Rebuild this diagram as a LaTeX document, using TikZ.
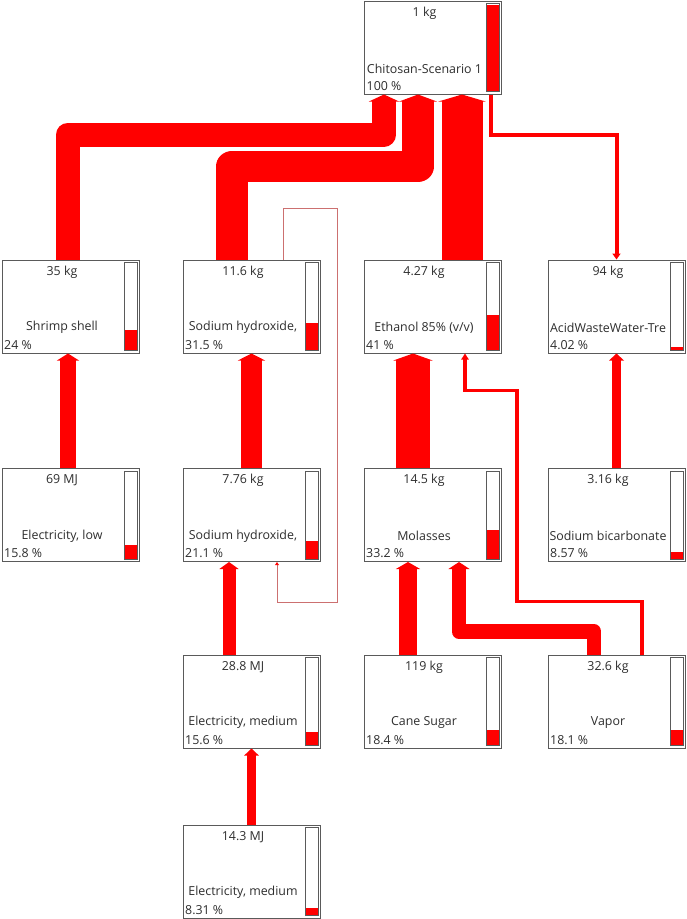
\documentclass[tikz,border=0pt]{standalone}
\usepackage{fontspec}
\setmainfont{Open Sans}
\usetikzlibrary{positioning, arrows.meta}
\definecolor{Flow}{HTML}{FF0000}
\definecolor{Frame}{HTML}{5A5A5A}
\definecolor{Ink}{HTML}{2E2E2E}
\definecolor{Thin}{HTML}{CC7070}
\tikzset{
    procbox/.style={rectangle, draw=Frame, fill=white, line width=1pt, minimum width=137pt, minimum height=93pt, inner sep=0pt},
    boxtext/.style={text=Ink, font=\fontsize{12.4}{14}\selectfont, inner sep=0pt},
    barframe/.style={draw=Frame, line width=0.8pt},
    flow/.style={draw=Flow, line width=#1, line join=round, -{Triangle[length=7pt 0, width=6pt 1]}},
    thinflow/.style={draw=Flow, line width=#1, -{Triangle[length=6pt 0, width=4pt 1]}},
    backflow/.style={draw=Thin, line width=0.8pt, -{Triangle[length=3pt 0, width=3pt 1, color=Flow]}},
}
\begin{document}
\begin{tikzpicture}[x=1pt, y=-1pt]
    \useasboundingbox (0,0) rectangle (687,919);

    % Processi (scatola, quantita, nome, percentuale, barra)
    \foreach \nm/\cx/\cy/\amt/\lab/\pct in {
        top/433/47.5/1 kg/Chitosan-Scenario 1/100,
        shrimp/70.5/306.5/35 kg/Shrimp shell/24,
        naohA/251.5/306.5/11.6 kg/{Sodium hydroxide,}/31.5,
        ethanol/432.5/306.5/4.27 kg/{Ethanol 85\% (v/v)}/41,
        acid/616.5/306.5/94 kg/AcidWasteWater-Tre/4.02,
        eleclow/70.5/515/69 MJ/{Electricity, low}/15.8,
        naohB/251.5/515/7.76 kg/{Sodium hydroxide,}/21.1,
        molasses/432.5/515/14.5 kg/Molasses/33.2,
        bicarb/616.5/515/3.16 kg/Sodium bicarbonate/8.57,
        elecmedA/251.5/701.5/28.8 MJ/{Electricity, medium}/15.6,
        cane/432.5/701.5/119 kg/Cane Sugar/18.4,
        vapor/616.5/701.5/32.6 kg/Vapor/18.1,
        elecmedB/251.5/871.5/14.3 MJ/{Electricity, medium}/8.31}{
        \node[procbox] (\nm) at (\cx,\cy) {};
        \node[boxtext] (\nm-amt) at ([xshift=-8.5pt, yshift=-12.5pt]\nm.north) {\amt};
        \node[boxtext] (\nm-lab) at ([xshift=-8.5pt, yshift=26pt]\nm.south) {\lab};
        \node[boxtext, anchor=west] (\nm-pct) at ([xshift=2.5pt, yshift=8.5pt]\nm.south west) {\pct\ \%};
        \draw[barframe] ([xshift=-15.5pt, yshift=-3pt]\nm.north east) rectangle ([xshift=-2.5pt, yshift=3pt]\nm.south east);
        \fill[Flow] ([xshift=-15pt, yshift=3.4pt]\nm.south east) rectangle ([xshift=-3pt, yshift={3+0.87*\pct}]\nm.south east);
    }

    % Flussi verso Chitosan
    \draw[flow=24pt] ([xshift=-2.5pt]shrimp.north) -- ++(0,-125) -| ([xshift=-49pt]top.south);
    \draw[flow=31.5pt] ([xshift=-19.5pt]naohA.north) -- ++(0,-93) -| ([xshift=-15pt]top.south);
    \draw[flow=41pt] ([xshift=29.5pt]ethanol.north) -- ([xshift=29pt]top.south);
    \draw[thinflow=4pt] ([xshift=58pt]top.south) -- ++(0,40) -| (acid.north);

    % Ritorno sottile fra le due soda caustiche
    \draw[backflow] ([xshift=31.5pt]naohA.north) -- ++(0,-51) -- ++(54,0) -- ++(0,394) -| ([xshift=25.5pt]naohB.south);

    % Secondo livello
    \draw[flow=15.8pt] ([xshift=-2.5pt]eleclow.north) -- ([xshift=-2.5pt]shrimp.south);
    \draw[flow=21.1pt] (naohB.north) -- (naohA.south);
    \draw[flow=33.2pt] ([xshift=-19.5pt]molasses.north) -- ([xshift=-19.5pt]ethanol.south);
    \draw[flow=8.6pt] (bicarb.north) -- (acid.south);
    \draw[thinflow=3.3pt] ([xshift=25.5pt]vapor.north) -- ++(0,-53) -- ++(-125,0) -- ++(0,-211) -| ([xshift=32.5pt]ethanol.south);

    % Terzo livello
    \draw[flow=13pt] ([xshift=-22.5pt]elecmedA.north) -- ([xshift=-22.5pt]naohB.south);
    \draw[flow=18pt] ([xshift=-24.5pt]cane.north) -- ([xshift=-24.5pt]molasses.south);
    \draw[flow=14.8pt] ([xshift=-22.5pt]vapor.north) -- ++(0,-23) -| ([xshift=26.5pt]molasses.south);

    % Quarto livello
    \draw[flow=8.3pt] (elecmedB.north) -- (elecmedA.south);
\end{tikzpicture}
\end{document}
